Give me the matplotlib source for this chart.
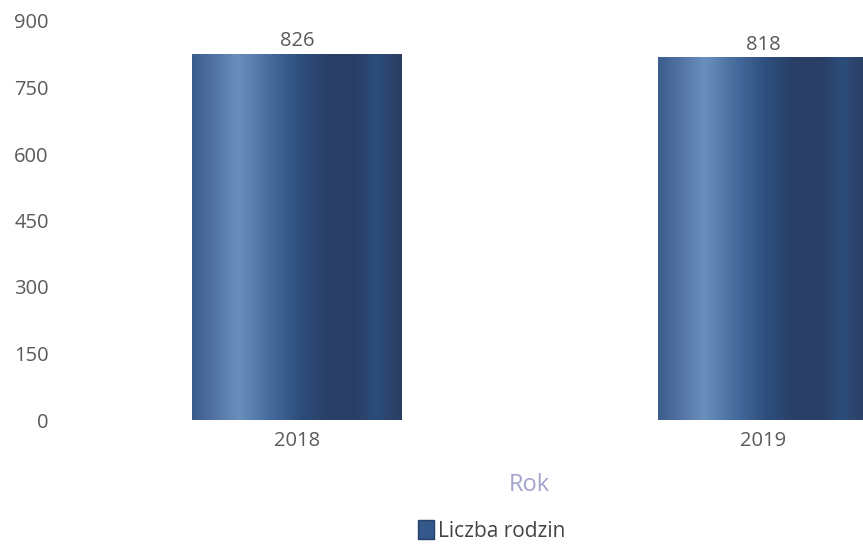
import matplotlib.pyplot as plt
import numpy as np
from matplotlib.colors import LinearSegmentedColormap
from matplotlib.patches import Patch

years = ['2018', '2019']
rodziny = [826, 818]
y_ticks = [0, 150, 300, 450, 600, 750, 900]

plt.rcParams['font.family'] = ['Open Sans', 'DejaVu Sans']

# shading across each bar, left to right
shade = LinearSegmentedColormap.from_list('shade', [
    (0.00, '#3a5c8a'), (0.06, '#48699a'), (0.22, '#6b8fbd'), (0.38, '#44699a'),
    (0.52, '#2d4e7c'), (0.66, '#283e64'), (0.78, '#293f66'), (0.88, '#2c4d7b'),
    (1.00, '#2a3d60')])

fig = plt.figure(figsize=(8.63, 5.44), dpi=100)
# axes deliberately run past the right edge (the source image is cropped)
ax = fig.add_axes([64 / 863, 1 - 420 / 544, 932 / 863, 399 / 544])

x = np.arange(len(years))
bars = ax.bar(x, rodziny, width=0.45, color='none', edgecolor='none')
grad = np.linspace(0, 1, 256).reshape(1, -1)
for b in bars:
    x0, w, h = b.get_x(), b.get_width(), b.get_height()
    im = ax.imshow(grad, cmap=shade, aspect='auto', extent=[x0, x0 + w, 0, h],
                   zorder=2)
    im.set_clip_path(b)
for xi, v in zip(x, rodziny):
    ax.text(xi, v + 6, str(v), ha='center', va='bottom', fontsize=14.5,
            color='#5a5a5a')

ax.set_xlim(-0.5, 1.5)
ax.set_ylim(0, 900)
ax.set_xticks(x)
ax.set_xticklabels(years, fontsize=14.5, color='#5a5a5a')
ax.set_yticks(y_ticks)
ax.set_yticklabels([str(t) for t in y_ticks], fontsize=14.5, color='#5a5a5a')
ax.tick_params(axis='x', length=0, pad=8)
ax.tick_params(axis='y', length=0, pad=11)
for s in ax.spines.values():
    s.set_visible(False)

fig.text(529 / 863, 1 - 485 / 544, 'Rok', ha='center', va='center',
         fontsize=17, color='#a3a3cc')
fig.legend(handles=[Patch(facecolor='#34588a', edgecolor='#27406a',
                          label='Liczba rodzin')],
           loc='center', bbox_to_anchor=(492 / 863, 1 - 531 / 544),
           frameon=False, fontsize=15, handlelength=0.75, handleheight=1.0,
           handletextpad=0.2, labelcolor='#444444')

fig.savefig('out.png', dpi=100)
